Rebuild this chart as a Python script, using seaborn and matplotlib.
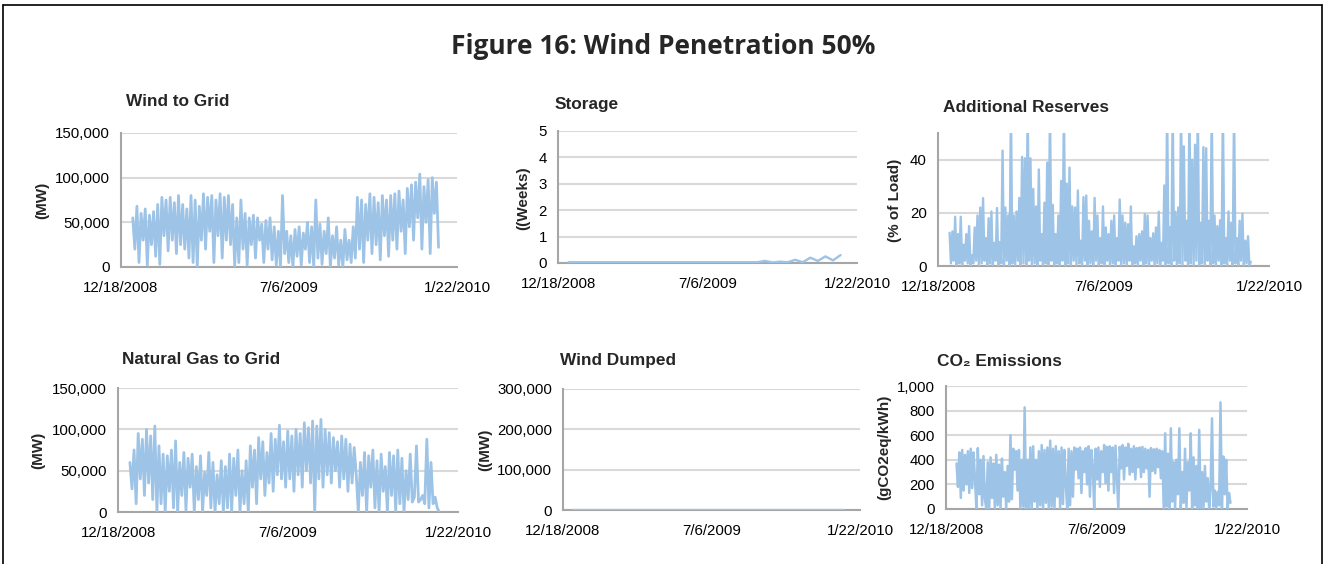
import numpy as np
import pandas as pd
import matplotlib
matplotlib.use('Agg')
import matplotlib.pyplot as plt
import matplotlib.ticker as mticker
from matplotlib.lines import Line2D
import seaborn as sns

sns.set_style('white')
plt.rcParams['font.family'] = ['Liberation Sans', 'DejaVu Sans']

W, H = 1326, 564
LINE_COLOR = '#9dc3e6'
GRID_COLOR = '#d9d9d9'
SPINE_COLOR = '#a6a6a6'

# ─────────────────────────────────────────────
# 데이터 (값은 그림에서 읽음, 2009-01-01 ~ 2009-12-31)
# ─────────────────────────────────────────────
X_TICKS = ['2008-12-18', '2009-07-06', '2010-01-22']
X_TICK_LABELS = ['12/18/2008', '7/6/2009', '1/22/2010']

# Wind to Grid (천 MW)
wind_to_grid = [
    55, 20, 68, 5, 60, 30, 65, 2, 58, 25, 62, 12, 70, 3, 78,
    35, 75, 18, 78, 30, 72, 15, 80, 25, 70, 20, 65, 10, 80, 5, 75,
    0, 68, 30, 82, 20, 78, 40, 80, 5, 75, 35, 82, 10, 78, 30, 80, 25, 70,
    0, 55, 5, 75, 20, 60, 2, 55, 25, 58, 10, 55, 30, 48, 5, 52, 20, 55, 8, 45, 2, 40,
    0, 80, 15, 40, 5, 35, 0, 42, 12, 45, 2, 38, 20, 50, 5, 45, 0, 75, 10, 48,
    3, 40, 15, 55, 0, 35, 10, 45, 2, 30, 0, 42, 8, 30, 5,
    45, 10, 78, 20, 75, 5, 70, 30, 82, 15, 78, 25, 72, 8, 80, 35, 75, 12, 80, 30, 82, 20,
    85, 40, 75, 15, 88, 45, 92, 30, 95, 55, 104, 20, 90, 50, 98, 15, 100, 60, 95, 22,
]

# Storage (주)
storage = [
    0.03, 0.03, 0.03, 0.03, 0.03, 0.03, 0.03, 0.03, 0.03, 0.03, 0.03, 0.03, 0.03,
    0.03, 0.03, 0.03, 0.03, 0.03, 0.03, 0.03, 0.03, 0.03, 0.03, 0.03, 0.03, 0.03,
    0.08, 0.02, 0.05, 0.03, 0.12, 0.03, 0.20, 0.08, 0.25, 0.10, 0.30,
]

# Additional Reserves (% of Load)
reserves = [
    12.5, 1, 13, 2, 18.5, 0, 12, 1, 18.5, 0, 8, 2, 12, 1, 15, 0, 4, 1, 14.5, 2,
    19, 0, 22, 1, 25.5, 2, 10.5, 0, 18, 1, 20.5, 0, 8.7, 2, 21.8, 0, 9, 1, 43.4, 0,
    22, 2, 19, 0, 60, 1, 19, 0, 20.5, 2, 25.6, 0, 41, 1, 40.5, 0, 60, 2, 40.5, 0,
    29, 1, 22.4, 0, 36.3, 2, 12, 0, 23.8, 1, 38.9, 0, 60, 2, 23, 0, 12, 1, 19, 0,
    32, 2, 60, 0, 31, 1, 37, 0, 22.4, 2, 22, 0, 28.4, 1, 9.5, 0, 25.9, 2, 26.5, 0,
    17, 1, 13, 0, 25.6, 2, 19, 0, 10.5, 1, 22.4, 0, 14.5, 2, 12, 0, 17, 1, 19, 0,
    10.5, 2, 25, 0, 19, 1, 16.3, 0, 15.7, 2, 22.4, 0, 7.4, 1, 11.2, 0, 12, 2, 13, 0,
    19.5, 1, 19, 0, 10.5, 2, 12.3, 0, 14.5, 1, 20.4, 0, 8.7, 2, 30.3, 0, 60, 1, 14.6, 0,
    60, 2, 20.4, 0, 22, 1, 60, 0, 45, 2, 17, 0, 60, 1, 40, 0, 45.6, 2, 60, 0,
    16.3, 1, 44.7, 0, 44.3, 2, 17, 0, 60, 1, 19, 0, 15, 2, 17.2, 0, 60, 1, 10.5, 0,
    20.5, 2, 16.3, 0, 60, 1, 10.5, 0, 17, 2, 19.7, 0, 9.5, 1, 11.2, 0, 1.6,
]

# Natural Gas to Grid (천 MW)
natural_gas = [
    60, 28, 75, 10, 95, 40, 88, 20, 100, 35, 92, 15, 104, 0, 80, 10,
    70, 0, 68, 25, 75, 5, 86, 0, 60, 20, 72, 2, 65, 30, 70, 0, 55, 15, 68, 0,
    48, 20, 72, 5, 60, 0, 45, 10, 62, 0,
    55, 5, 70, 0, 65, 20, 75, 0, 50, 10, 62, 0,
    80, 30, 75, 10, 90, 40, 85, 20, 72, 35, 95, 25, 88, 45, 105, 40,
    85, 30, 98, 40, 92, 25, 100, 45, 95, 30, 108, 50, 102, 35, 110, 0, 104, 40,
    112, 30, 100, 45, 96, 35, 90, 50, 85, 30, 92, 40, 88, 25, 82, 35, 78, 45,
    0, 60, 20, 72, 0, 68, 30, 75, 5, 62, 0, 70, 25, 55, 0, 72, 20, 68, 0, 75, 10, 65, 0, 50,
    15, 70, 12, 18, 80, 12, 15, 20, 10, 88, 5, 60, 10, 18, 5, 0,
]

# Wind Dumped (MW)
wind_dumped = [0, 0, 0, 0, 0, 0, 0, 0, 0, 0, 0, 0]

# CO2 Emissions (gCO2eq/kWh)
co2 = [
    370, 180, 460, 90, 480, 150, 440, 200, 470, 130, 490, 170, 460, 240,
    0, 495, 120, 400, 30, 430, 80, 0, 380, 0, 420, 90, 370, 0, 440, 30, 360, 0,
    410, 100, 300, 0, 350, 60,
    600, 80, 490, 320, 470, 150, 480, 0, 400, 20, 826, 0, 400, 10,
    500, 0, 510, 60, 400, 0, 470, 30, 520, 0, 480, 50, 500, 0, 556, 20, 490, 0,
    510, 100, 470, 0, 500, 40, 480, 200, 0, 490, 30, 470, 100, 500,
    320, 490, 250, 500, 130, 470, 300, 495, 200, 510, 100, 480, 350, 0, 490, 240,
    500, 180, 470, 300,
    520, 210, 505, 150, 510, 300, 500, 130, 515, 250, 0, 505, 330, 520, 240, 500,
    350, 530, 280, 490, 300, 510, 240, 495, 340, 500, 260, 505, 300, 490, 330, 480,
    100, 495, 310, 485, 290, 490, 340, 480, 250, 470,
    0, 615, 20, 450, 0, 656, 60, 380, 0, 400, 120, 656, 0, 300, 50, 490, 0, 380,
    150, 615, 0, 420, 30, 350, 0, 643, 10, 300, 0, 350, 60, 250,
    0, 160, 737, 20, 150, 0, 140, 30, 867, 0, 427, 120, 400, 0, 130, 50,
]


def px_box(x0, x1, ytop, ybot):
    return [x0 / W, 1 - ybot / H, (x1 - x0) / W, (ybot - ytop) / H]


def fig_text(x, y, s, **kw):
    fig.text(x / W, 1 - y / H, s, **kw)


def draw_panel(box, values, ymax, yticks, lw=1.7):
    ax = fig.add_axes(box)
    dates = pd.date_range('2009-01-01', '2009-12-31', periods=len(values))
    df = pd.DataFrame({'date': dates, 'value': values})
    sns.lineplot(data=df, x='date', y='value', ax=ax, color=LINE_COLOR,
                 lw=lw, estimator=None, zorder=3)
    ax.set_xlim(pd.Timestamp('2008-12-18'), pd.Timestamp('2010-01-22'))
    ax.set_ylim(0, ymax)
    ax.set_yticks(yticks)
    ax.yaxis.set_major_formatter(mticker.FuncFormatter(lambda v, p: f'{v:,.0f}'))
    ax.set_xticks(pd.to_datetime(X_TICKS))
    ax.set_xticklabels(X_TICK_LABELS)
    ax.set_xlabel('')
    ax.set_ylabel('')
    ax.grid(axis='y', color=GRID_COLOR, lw=1.5)
    ax.grid(axis='x', visible=False)
    ax.set_axisbelow(True)
    for side in ['top', 'right']:
        ax.spines[side].set_visible(False)
    for side in ['left', 'bottom']:
        ax.spines[side].set_color(SPINE_COLOR)
        ax.spines[side].set_linewidth(1.5)
    ax.tick_params(length=0, labelsize=10.8, colors='black')
    ax.tick_params(axis='y', pad=8)
    ax.tick_params(axis='x', pad=10)
    return ax


fig = plt.figure(figsize=(W / 100, H / 100), dpi=100)

draw_panel(px_box(121, 457, 133, 267), np.array(wind_to_grid) * 1000,
           150000, [0, 50000, 100000, 150000], lw=2.0)
draw_panel(px_box(558, 857, 131, 263), storage, 5, [0, 1, 2, 3, 4, 5])
draw_panel(px_box(938, 1269, 133, 266), reserves, 50, [0, 20, 40])
draw_panel(px_box(118, 458, 388, 512), np.array(natural_gas) * 1000,
           150000, [0, 50000, 100000, 150000], lw=2.0)
draw_panel(px_box(563, 860, 389, 510), wind_dumped, 300000,
           [0, 100000, 200000, 300000])
draw_panel(px_box(946, 1247, 386, 509), co2, 1000,
           [0, 200, 400, 600, 800, 1000], lw=1.8)

# 제목
fig_text(663, 46, 'Figure 16: Wind Penetration 50%', ha='center', va='center',
         fontsize=19, fontweight='bold', family=['Open Sans', 'DejaVu Sans'])

title_kw = dict(ha='left', va='center', fontsize=12.4, fontweight='bold')
fig_text(126, 101, 'Wind to Grid', **title_kw)
fig_text(555, 105, 'Storage', **title_kw)
fig_text(943, 107, 'Additional Reserves', **title_kw)
fig_text(122, 359, 'Natural Gas to Grid', **title_kw)
fig_text(560, 360, 'Wind Dumped', **title_kw)
fig_text(937, 362, 'CO\u2082 Emissions', **title_kw)

ylabel_kw = dict(ha='center', va='center', rotation=90, fontsize=11,
                 fontweight='bold')
fig_text(42, 200, '(MW)', **ylabel_kw)
fig_text(523, 198, '((Weeks)', **ylabel_kw)
fig_text(895, 200, '(% of Load)', **ylabel_kw)
fig_text(38, 450, '(MW)', **ylabel_kw)
fig_text(485, 450, '((MW)', **ylabel_kw)
fig_text(884, 447, '(gCO2eq/kWh)', **ylabel_kw)

# 바깥 테두리
for xs, ys in [([3, 3], [5, H]), ([3, 1322], [5, 5]), ([1322, 1322], [5, H])]:
    fig.add_artist(Line2D([x / W for x in xs], [1 - y / H for y in ys],
                          color='black', lw=1.2))

plt.savefig('out.png', dpi=100)
